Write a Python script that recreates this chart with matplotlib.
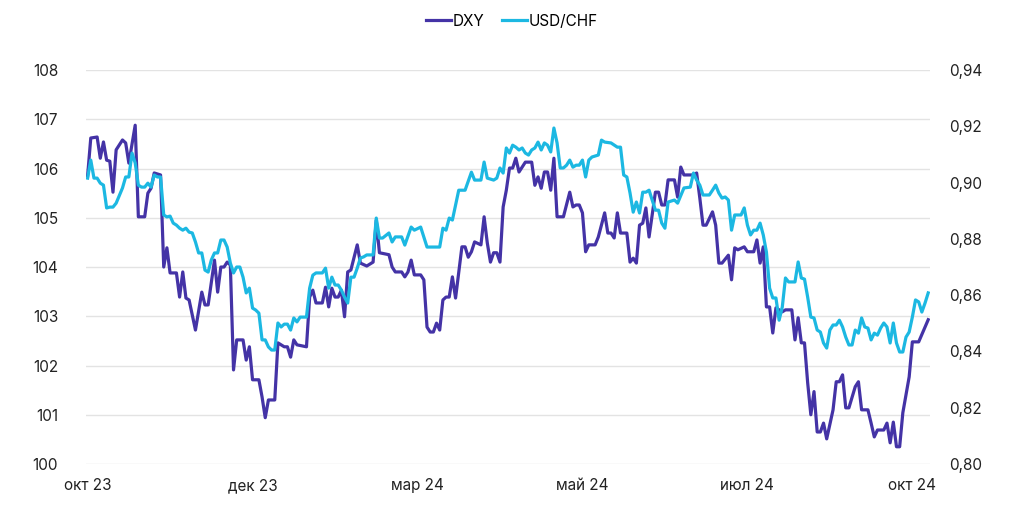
import matplotlib.pyplot as plt
from matplotlib.ticker import FuncFormatter

# DXY, index of trading day -> value
dxy_day = [0, 1, 3, 4, 5, 6, 7, 8, 9, 11, 12, 13, 15, 16, 18, 19, 20, 21, 23, 24,
           25, 26, 28, 29, 30, 31, 32, 34, 36, 37, 38, 40, 41, 42, 43, 44, 45, 46, 47, 49,
           50, 51, 52, 54, 55, 56, 57, 59, 60, 62, 63, 64, 65, 66, 69, 70, 71, 72, 74, 75,
           76, 77, 78, 79, 80, 81, 82, 83, 85, 86, 88, 90, 91, 92, 95, 96, 97, 99, 100, 101,
           102, 103, 105, 106, 107, 108, 109, 110, 111, 112, 113, 114, 115, 116, 118, 119, 120, 121, 122, 124,
           125, 126, 127, 128, 129, 130, 131, 132, 133, 134, 135, 136, 138, 140, 141, 142, 143, 144, 145, 146,
           147, 148, 150, 152, 153, 154, 155, 156, 157, 158, 160, 161, 163, 164, 165, 166, 167, 168, 170, 171,
           172, 173, 174, 175, 176, 177, 179, 180, 181, 182, 183, 185, 186, 187, 188, 191, 192, 193, 194, 195,
           197, 198, 199, 200, 202, 203, 204, 205, 207, 208, 210, 211, 212, 213, 214, 215, 216, 217, 219, 220,
           222, 223, 224, 225, 226, 227, 228, 229, 230, 231, 232, 233, 235, 236, 237, 238, 239, 240, 242, 243,
           244, 246, 247, 248, 249, 251, 252, 253, 254, 255, 256, 257, 259, 260, 262, 265]
dxy = [105.85, 106.62, 106.64, 106.21, 106.54, 106.17, 106.15, 105.52, 106.38, 106.58, 106.52, 106.11, 106.88, 105.02, 105.02, 105.50, 105.60, 105.91, 105.87, 104.00,
       104.39, 103.88, 103.88, 103.39, 103.90, 103.37, 103.33, 102.72, 103.49, 103.23, 103.23, 104.14, 103.49, 104.00, 104.00, 104.10, 104.04, 101.91, 102.52, 102.52,
       102.11, 102.38, 101.71, 101.71, 101.36, 100.94, 101.30, 101.30, 102.46, 102.38, 102.38, 102.17, 102.52, 102.42, 102.38, 103.39, 103.53, 103.27, 103.27, 103.59,
       103.19, 103.57, 103.39, 103.39, 103.53, 102.99, 103.90, 103.94, 104.45, 104.08, 104.02, 104.10, 104.95, 104.29, 104.25, 104.00, 103.90, 103.90, 103.80, 103.90,
       104.14, 103.84, 103.84, 103.74, 102.78, 102.68, 102.68, 102.86, 102.72, 103.33, 103.39, 103.39, 103.80, 103.37, 104.41, 104.41, 104.20, 104.31, 104.51, 104.45,
       105.02, 104.49, 104.10, 104.29, 104.29, 104.10, 105.22, 105.56, 106.01, 106.01, 106.21, 105.93, 106.13, 106.13, 105.66, 105.83, 105.60, 105.93, 105.93, 105.56,
       106.21, 105.02, 105.02, 105.52, 105.22, 105.26, 105.26, 105.10, 104.31, 104.45, 104.45, 104.61, 105.10, 104.69, 104.69, 104.59, 105.10, 104.69, 104.69, 104.10,
       104.18, 104.08, 104.85, 104.89, 105.20, 104.61, 105.52, 105.52, 105.26, 105.26, 105.77, 105.77, 105.42, 106.03, 105.87, 105.87, 105.91, 105.40, 104.85, 104.85,
       105.12, 104.85, 104.08, 104.08, 104.24, 103.74, 104.39, 104.35, 104.41, 104.31, 104.31, 104.55, 104.08, 104.41, 103.19, 103.19, 102.66, 103.17, 103.09, 103.13,
       103.13, 102.52, 102.97, 102.46, 102.46, 101.65, 101.00, 101.47, 100.65, 100.65, 100.83, 100.51, 101.10, 101.67, 101.67, 101.81, 101.14, 101.14, 101.57, 101.67,
       101.10, 101.10, 100.83, 100.55, 100.69, 100.69, 100.83, 100.43, 100.85, 100.35, 100.35, 101.04, 101.77, 102.48, 102.48, 102.93]

# USD/CHF, index of trading day -> value
chf_day = [0, 1, 2, 3, 4, 5, 6, 7, 8, 9, 11, 12, 13, 14, 15, 16, 17, 18, 19, 20,
           21, 22, 23, 24, 25, 26, 27, 28, 29, 30, 31, 32, 33, 34, 35, 36, 37, 38, 39, 40,
           41, 42, 43, 44, 45, 46, 47, 48, 49, 50, 51, 52, 53, 54, 55, 56, 57, 58, 59, 60,
           61, 62, 63, 64, 65, 66, 67, 69, 70, 71, 72, 74, 75, 76, 77, 78, 79, 80, 81, 82,
           83, 84, 85, 86, 87, 88, 89, 90, 91, 92, 93, 95, 96, 97, 99, 100, 102, 103, 105, 106,
           107, 109, 111, 112, 113, 114, 115, 117, 119, 121, 122, 124, 125, 126, 128, 129, 130, 131, 132, 133,
           134, 135, 136, 137, 138, 139, 140, 141, 142, 143, 144, 145, 146, 147, 148, 149, 150, 151, 152, 153,
           154, 155, 156, 157, 158, 159, 161, 162, 163, 165, 167, 168, 169, 170, 171, 172, 173, 174, 175, 176,
           177, 178, 179, 180, 181, 182, 183, 185, 186, 188, 190, 191, 192, 193, 194, 196, 197, 198, 199, 200,
           201, 202, 203, 204, 206, 207, 208, 209, 210, 211, 212, 213, 214, 215, 216, 217, 218, 219, 220, 221,
           222, 223, 224, 225, 226, 227, 228, 229, 230, 231, 232, 233, 234, 235, 236, 237, 238, 239, 240, 241,
           242, 243, 244, 245, 246, 247, 248, 249, 250, 251, 252, 253, 254, 255, 256, 257, 258, 259, 260, 261,
           262, 263, 264, 265]
chf = [0.9016, 0.9080, 0.9016, 0.9016, 0.8998, 0.8991, 0.8910, 0.8913, 0.8913, 0.8927, 0.8981, 0.9020, 0.9020, 0.9105, 0.9070, 0.8991, 0.8984, 0.8984, 0.8998, 0.8984,
       0.9027, 0.9020, 0.9020, 0.8885, 0.8878, 0.8881, 0.8856, 0.8849, 0.8838, 0.8831, 0.8838, 0.8824, 0.8821, 0.8789, 0.8750, 0.8750, 0.8689, 0.8682, 0.8725, 0.8750,
       0.8750, 0.8796, 0.8796, 0.8771, 0.8714, 0.8679, 0.8700, 0.8700, 0.8664, 0.8608, 0.8625, 0.8554, 0.8547, 0.8536, 0.8441, 0.8441, 0.8416, 0.8405, 0.8405, 0.8501,
       0.8487, 0.8497, 0.8497, 0.8476, 0.8519, 0.8505, 0.8522, 0.8522, 0.8625, 0.8671, 0.8679, 0.8679, 0.8696, 0.8625, 0.8664, 0.8636, 0.8636, 0.8618, 0.8593, 0.8572,
       0.8664, 0.8664, 0.8696, 0.8732, 0.8736, 0.8743, 0.8743, 0.8743, 0.8874, 0.8803, 0.8803, 0.8821, 0.8789, 0.8807, 0.8807, 0.8778, 0.8842, 0.8831, 0.8842, 0.8807,
       0.8771, 0.8771, 0.8771, 0.8838, 0.8831, 0.8874, 0.8867, 0.8973, 0.8973, 0.9037, 0.9009, 0.9009, 0.9073, 0.9016, 0.9009, 0.9016, 0.9052, 0.9034, 0.9123, 0.9105,
       0.9133, 0.9126, 0.9116, 0.9123, 0.9105, 0.9098, 0.9116, 0.9123, 0.9144, 0.9116, 0.9141, 0.9133, 0.9109, 0.9194, 0.9141, 0.9052, 0.9052, 0.9062, 0.9080, 0.9055,
       0.9062, 0.9062, 0.9080, 0.9020, 0.9080, 0.9091, 0.9098, 0.9151, 0.9144, 0.9141, 0.9126, 0.9126, 0.9027, 0.9020, 0.8963, 0.8895, 0.8931, 0.8892, 0.8966, 0.8966,
       0.8973, 0.8938, 0.8902, 0.8902, 0.8856, 0.8838, 0.8931, 0.8938, 0.8927, 0.8981, 0.8984, 0.9034, 0.9009, 0.8991, 0.8956, 0.8956, 0.8973, 0.8991, 0.8963, 0.8945,
       0.8949, 0.8938, 0.8831, 0.8885, 0.8885, 0.8910, 0.8849, 0.8814, 0.8831, 0.8831, 0.8856, 0.8814, 0.8753, 0.8625, 0.8590, 0.8590, 0.8511, 0.8558, 0.8661, 0.8647,
       0.8647, 0.8647, 0.8718, 0.8661, 0.8657, 0.8593, 0.8522, 0.8519, 0.8476, 0.8469, 0.8430, 0.8412, 0.8476, 0.8494, 0.8494, 0.8511, 0.8487, 0.8451, 0.8423, 0.8423,
       0.8476, 0.8465, 0.8519, 0.8487, 0.8483, 0.8441, 0.8465, 0.8458, 0.8483, 0.8501, 0.8487, 0.8430, 0.8501, 0.8430, 0.8398, 0.8398, 0.8451, 0.8469, 0.8522, 0.8583,
       0.8576, 0.8540, 0.8572, 0.8608]

tick_pos = [0, 52, 104, 156, 208, 260]
tick_labels = ['окт 23', 'дек 23', 'мар 24', 'май 24', 'июл 24', 'окт 24']

plt.rcParams['font.family'] = ['Inter', 'DejaVu Sans']

fig = plt.figure(figsize=(10.24, 5.19), dpi=100)
ax = fig.add_axes([0.084, 0.106, 0.824, 0.759])
ax2 = ax.twinx()

ax.plot(dxy_day, dxy, color='#4433A6', lw=2.3, solid_joinstyle='round', label='DXY')
ax2.plot(chf_day, chf, color='#1CB8E2', lw=2.3, solid_joinstyle='round', label='USD/CHF')

ax.set_ylim(100, 108)
ax.set_yticks(range(100, 109))
ax2.set_ylim(0.80, 0.94)
ax2.set_yticks([0.80, 0.82, 0.84, 0.86, 0.88, 0.90, 0.92, 0.94])
ax2.yaxis.set_major_formatter(FuncFormatter(lambda v, p: f'{v:.2f}'.replace('.', ',')))
ax.set_xlim(-0.5, 265.5)
ax.set_xticks(tick_pos)
ax.set_xticklabels(tick_labels)

ax.grid(axis='y', color='#e3e3e3', lw=1)
ax.set_axisbelow(True)
for a in (ax, ax2):
    for s in a.spines.values():
        s.set_visible(False)
    a.tick_params(length=0, labelsize=11, colors='#222222')
ax.tick_params(axis='y', pad=20)
ax2.tick_params(axis='y', pad=14)
ax.tick_params(axis='x', pad=10)

h1, l1 = ax.get_legend_handles_labels()
h2, l2 = ax2.get_legend_handles_labels()
fig.legend(h1 + h2, l1 + l2, loc='upper center', bbox_to_anchor=(0.5, 1.0), ncol=2,
           frameon=False, fontsize=11, handlelength=1.6, handletextpad=0.1, columnspacing=1.2)

fig.savefig('out.png', dpi=100)
